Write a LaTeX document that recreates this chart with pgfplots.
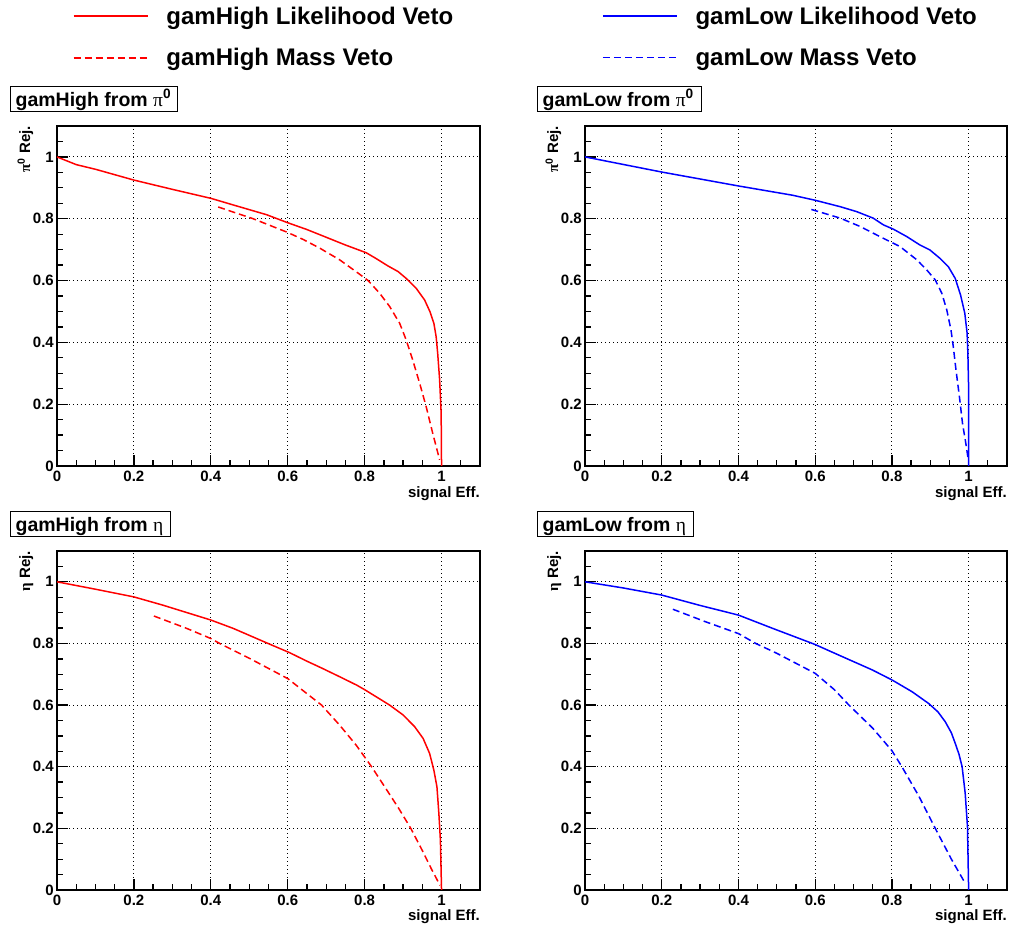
\documentclass[border=0pt]{standalone}
\usepackage{fontspec}
\setmainfont{Liberation Sans}
\newfontfamily\grk{Liberation Serif}
\usepackage{pgfplots}
\pgfplotsset{compat=1.18}

\pgfplotsset{
 rootstyle/.style={
  scale only axis, width=423pt, height=340pt,
  xmin=0, xmax=1.1, ymin=0, ymax=1.1,
  xtick={0,0.2,0.4,0.6,0.8,1}, ytick={0,0.2,0.4,0.6,0.8,1},
  minor xtick={0.05,0.1,0.15,0.25,0.3,0.35,0.45,0.5,0.55,0.65,0.7,0.75,0.85,0.9,0.95,1.05},
  minor ytick={0.05,0.1,0.15,0.25,0.3,0.35,0.45,0.5,0.55,0.65,0.7,0.75,0.85,0.9,0.95,1.05},
  xtick pos=bottom, ytick pos=left,
  tick align=inside,
  major tick length=11pt, minor tick length=6pt,
  tick style={black, line width=1.3pt},
  axis line style={black, line width=1.5pt},
  grid=major,
  major grid style={black, line width=1pt, dash pattern=on 1.3pt off 2.7pt},
  tick label style={font=\fontsize{15}{17}\selectfont\bfseries},
  /pgf/number format/assume math mode=true,
  xticklabel style={inner sep=0pt, yshift=-5pt},
  yticklabel style={inner sep=0pt, xshift=-3pt},
  every axis x label/.style={at={(axis description cs:1,-0.0912)}, anchor=base east, inner sep=0pt, font=\fontsize{15}{17}\selectfont\bfseries},
  every axis y label/.style={at={(axis description cs:-0.0638,1)}, rotate=90, anchor=base east, inner sep=0pt, font=\fontsize{15}{17}\selectfont\bfseries},
  legend style={draw=none, fill=none, inner sep=0pt, outer sep=0pt,
    font=\fontsize{24}{28}\selectfont\bfseries, column sep=16pt, row sep=19pt,
    anchor=north west, cells={anchor=west}},
  legend image code/.code={\draw[#1] (0pt,0pt) -- (74pt,0pt);},
 },
 solidline/.style={line width=1.5pt},
 dashline/.style={line width=1.5pt, dash pattern=on 7pt off 4pt},
}

\begin{document}
\begin{tikzpicture}
\useasboundingbox (0,0) rectangle (1010pt,929pt);

% ---------- top left: gamHigh from pi0
\begin{axis}[rootstyle, at={(57pt,463pt)}, anchor=south west,
  xlabel={signal Eff.}, ylabel={{\grk π}\textsuperscript{0} Rej.},
  legend style={at={(axis description cs:0.0378,1.357)}}]
\addplot[red, solidline] coordinates {
(0,1.0) (0.02,0.99) (0.05,0.975) (0.1,0.96) (0.2,0.925) (0.3,0.895) (0.4,0.866)
(0.457,0.845) (0.545,0.813) (0.6,0.787) (0.65,0.765) (0.7,0.740) (0.75,0.715)
(0.804,0.690) (0.830,0.671) (0.861,0.647) (0.887,0.629) (0.908,0.607)
(0.934,0.575) (0.956,0.537) (0.970,0.499) (0.980,0.462) (0.986,0.418) (0.990,0.364)
(0.995,0.279) (0.999,0.170) (1.0,0)};
\addlegendentry{gamHigh Likelihood Veto}
\addplot[red, dashline] coordinates {
(0.419,0.838) (0.51,0.800) (0.597,0.757) (0.640,0.733) (0.683,0.705) (0.735,0.667)
(0.783,0.624) (0.809,0.600) (0.839,0.559) (0.865,0.516) (0.891,0.462) (0.908,0.408)
(0.925,0.343) (0.943,0.268) (0.960,0.192) (0.977,0.106) (0.995,0.020)};
\addlegendentry{gamHigh Mass Veto}
\end{axis}

% ---------- top right: gamLow from pi0
\begin{axis}[rootstyle, width=422pt, at={(585pt,463pt)}, anchor=south west,
  xlabel={signal Eff.}, ylabel={{\grk π}\textsuperscript{0} Rej.},
  legend style={at={(axis description cs:0.0403,1.357)}}]
\addplot[blue, solidline] coordinates {
(0,1) (0.2,0.951) (0.4,0.906) (0.541,0.876) (0.599,0.860) (0.665,0.839) (0.708,0.823)
(0.751,0.802) (0.778,0.780) (0.804,0.766) (0.839,0.742) (0.873,0.715) (0.899,0.699)
(0.925,0.672) (0.947,0.645) (0.965,0.607) (0.979,0.553) (0.990,0.494) (0.996,0.430)
(0.998,0.365) (1.0,0.25) (1,0)};
\addlegendentry{gamLow Likelihood Veto}
\addplot[blue, dashline] coordinates {
(0.590,0.830) (0.665,0.802) (0.717,0.775) (0.769,0.742) (0.821,0.710) (0.865,0.667)
(0.891,0.634) (0.913,0.602) (0.930,0.559) (0.943,0.505) (0.954,0.440) (0.960,0.386)
(0.967,0.311) (0.976,0.224) (0.984,0.138) (0.994,0.063) (0.999,0.02)};
\addlegendentry{gamLow Mass Veto}
\end{axis}

% ---------- bottom left: gamHigh from eta
\begin{axis}[rootstyle, height=339pt, at={(57pt,39pt)}, anchor=south west,
  xlabel={signal Eff.}, ylabel={{\grk η} Rej.}]
\addplot[red, solidline] coordinates {
(0,1) (0.1,0.976) (0.2,0.951) (0.276,0.924) (0.4,0.876) (0.458,0.849) (0.545,0.802)
(0.605,0.770) (0.649,0.743) (0.692,0.718) (0.735,0.692) (0.779,0.665) (0.800,0.650)
(0.830,0.627) (0.865,0.600) (0.900,0.568) (0.930,0.530) (0.952,0.492) (0.969,0.443)
(0.980,0.389) (0.988,0.335) (0.993,0.249) (0.997,0.162) (1,0)};
\addplot[red, dashline] coordinates {
(0.252,0.889) (0.337,0.849) (0.4,0.816) (0.423,0.8) (0.5,0.752) (0.6,0.686)
(0.649,0.638) (0.688,0.6) (0.735,0.535) (0.778,0.47) (0.818,0.4) (0.86,0.32)
(0.89,0.262) (0.92,0.2) (0.95,0.128) (0.975,0.065) (0.996,0.015)};
\end{axis}

% ---------- bottom right: gamLow from eta
\begin{axis}[rootstyle, width=422pt, height=339pt, at={(585pt,39pt)}, anchor=south west,
  xlabel={signal Eff.}, ylabel={{\grk η} Rej.}]
\addplot[blue, solidline] coordinates {
(0,1) (0.1,0.98) (0.2,0.957) (0.298,0.924) (0.4,0.892) (0.489,0.849) (0.599,0.797)
(0.662,0.762) (0.749,0.714) (0.801,0.681) (0.853,0.643) (0.896,0.605) (0.920,0.578)
(0.939,0.546) (0.955,0.510) (0.965,0.476) (0.975,0.440) (0.983,0.400) (0.991,0.314)
(0.997,0.205) (1,0)};
\addplot[blue, dashline] coordinates {
(0.229,0.911) (0.315,0.870) (0.4,0.832) (0.445,0.80) (0.5,0.768) (0.6,0.703)
(0.65,0.65) (0.688,0.6) (0.75,0.525) (0.8,0.452) (0.826,0.4) (0.87,0.305)
(0.913,0.2) (0.955,0.10) (0.991,0.022)};
\end{axis}

% ---------- pad titles
\tikzset{padtitle/.style={draw=black, line width=1.2pt, fill=white, anchor=north west,
  inner xsep=5pt, inner ysep=0pt, minimum height=25pt,
  text height=14pt, text depth=0pt, font=\fontsize{19.5}{22}\selectfont\bfseries}}
\node[padtitle] at (10pt,843pt) {\makebox[157pt][l]{gamHigh from {\grk\mdseries π}\textsuperscript{0}}};
\node[padtitle] at (537pt,843pt) {\makebox[154pt][l]{gamLow from {\grk\mdseries π}\textsuperscript{0}}};
\node[padtitle] at (10pt,418pt) {\makebox[150pt][l]{gamHigh from {\grk\mdseries η}}};
\node[padtitle] at (537pt,418pt) {\makebox[146pt][l]{gamLow from {\grk\mdseries η}}};
\end{tikzpicture}
\end{document}
